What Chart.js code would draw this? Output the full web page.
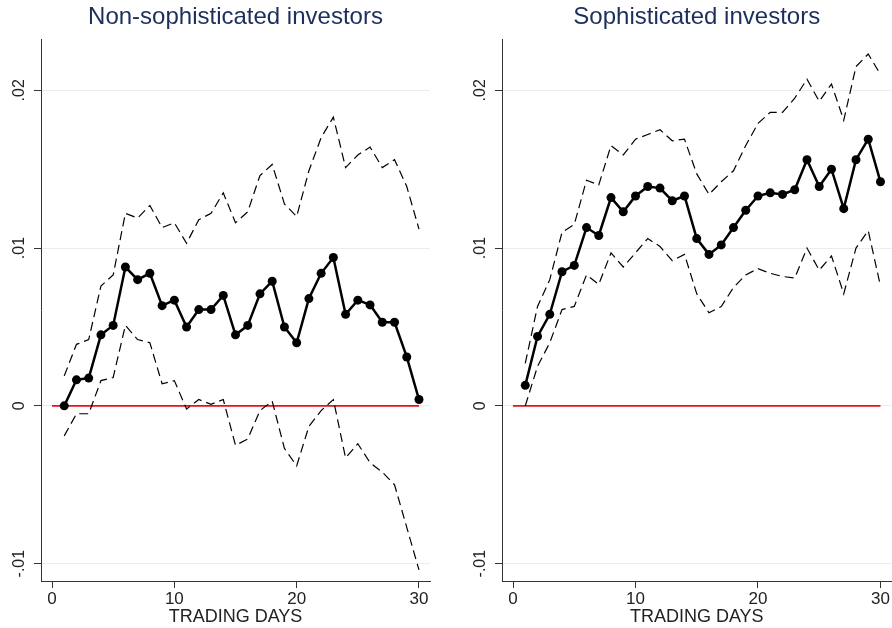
<!DOCTYPE html>
<html>
<head>
<meta charset="utf-8">
<script src="https://cdn.jsdelivr.net/npm/chart.js@4.4.1/dist/chart.umd.min.js"></script>
<style>
  body { margin: 0; background: #fff; overflow: hidden; }
  canvas { position: absolute; top: 0; }
  #left-chart { left: 0; }
  #right-chart { left: 464px; }
</style>
</head>
<body>
<canvas id="left-chart" width="454" height="628"></canvas>
<canvas id="right-chart" width="432" height="628"></canvas>
<script>
// Trading days on the x axis
const days = [1, 2, 3, 4, 5, 6, 7, 8, 9, 10, 11, 12, 13, 14, 15, 16, 17, 18, 19, 20, 21, 22, 23, 24, 25, 26, 27, 28, 29, 30];

// Non-sophisticated investors: mean and confidence band
const nonSophMean = [0.0000, 0.00165, 0.00176, 0.0045, 0.0051, 0.0088, 0.0080, 0.0084, 0.00635, 0.0067, 0.0050, 0.0061, 0.0061, 0.0070, 0.0045, 0.0051, 0.0071, 0.0079, 0.0050, 0.0040, 0.0068, 0.0084, 0.0094, 0.0058, 0.0067, 0.0064, 0.0053, 0.0053, 0.0031, 0.0004];
const nonSophUpper = [0.0019, 0.0039, 0.0042, 0.0076, 0.0083, 0.0122, 0.0119, 0.0127, 0.0113, 0.0116, 0.0103, 0.0118, 0.0122, 0.0135, 0.0116, 0.0123, 0.0146, 0.0153, 0.0128, 0.0120, 0.0149, 0.0170, 0.0183, 0.0151, 0.0159, 0.0164, 0.0151, 0.0156, 0.0139, 0.0112];
const nonSophLower = [-0.0019, -0.0005, -0.0005, 0.0016, 0.0018, 0.0051, 0.0042, 0.0040, 0.0014, 0.0016, -0.0002, 0.0004, 0.0001, 0.0004, -0.0025, -0.0021, -0.0003, 0.0003, -0.0027, -0.0038, -0.0013, -0.0003, 0.0004, -0.0033, -0.0024, -0.0036, -0.0042, -0.0050, -0.0077, -0.0104];

// Sophisticated investors: mean and confidence band
const sophMean = [0.0013, 0.0044, 0.0058, 0.0085, 0.0089, 0.0113, 0.0108, 0.0132, 0.0123, 0.0133, 0.0139, 0.0138, 0.0130, 0.0133, 0.0106, 0.0096, 0.0102, 0.0113, 0.0124, 0.0133, 0.0135, 0.0134, 0.0137, 0.0156, 0.0139, 0.0150, 0.0125, 0.0156, 0.0169, 0.0142];
const sophUpper = [0.0027, 0.0063, 0.0080, 0.0110, 0.0115, 0.0143, 0.0140, 0.0165, 0.0159, 0.0169, 0.0172, 0.0175, 0.0168, 0.0169, 0.0147, 0.0134, 0.0142, 0.0149, 0.0165, 0.0179, 0.0186, 0.0186, 0.0195, 0.0207, 0.0193, 0.0204, 0.0181, 0.0215, 0.0223, 0.0210];
const sophLower = [0.0000, 0.0025, 0.0040, 0.0061, 0.0063, 0.0083, 0.0077, 0.0097, 0.0088, 0.0097, 0.0106, 0.0101, 0.0092, 0.0096, 0.0071, 0.0059, 0.0063, 0.0075, 0.0083, 0.0087, 0.0084, 0.0082, 0.0081, 0.0100, 0.0086, 0.0095, 0.0071, 0.0100, 0.0111, 0.0076];

// Zero reference line and axis ticks
const zeroLineX = [0, 30];
const xTicks = [0, 10, 20, 30];
const yTicks = [-0.01, 0, 0.01, 0.02];
const yTickLabels = ['-.01', '0', '.01', '.02'];

const FONT = 'Liberation Sans, Arial, sans-serif';

function toPoints(xs, ys) {
    return xs.map((x, i) => ({ x: x, y: ys[i] }));
}

// Y tick labels are drawn rotated, reading upward
const rotatedYLabels = {
    id: 'rotatedYLabels',
    afterDraw(chart) {
        const ctx = chart.ctx;
        const scale = chart.scales.y;
        ctx.save();
        ctx.font = '16px ' + FONT;
        ctx.fillStyle = '#222';
        ctx.textAlign = 'center';
        ctx.textBaseline = 'middle';
        yTicks.forEach((v, i) => {
            ctx.save();
            ctx.translate(chart.chartArea.left - 21, scale.getPixelForValue(v));
            ctx.rotate(-Math.PI / 2);
            ctx.fillText(yTickLabels[i], 0, 0);
            ctx.restore();
        });
        ctx.restore();
    }
};

function makeChart(canvasId, title, mean, upper, lower, yAxisWidth, padRight) {
    const ctx = document.getElementById(canvasId).getContext('2d');
    return new Chart(ctx, {
        type: 'line',
        data: {
            datasets: [
                {
                    data: toPoints(days, mean),
                    borderColor: '#000',
                    borderWidth: 2.5,
                    pointRadius: 4.5,
                    pointBackgroundColor: '#000',
                    pointBorderWidth: 0
                },
                {
                    data: toPoints(days, upper),
                    borderColor: '#000',
                    borderWidth: 1.2,
                    borderDash: [9, 5],
                    pointRadius: 0
                },
                {
                    data: toPoints(days, lower),
                    borderColor: '#000',
                    borderWidth: 1.2,
                    borderDash: [9, 5],
                    pointRadius: 0
                },
                {
                    data: toPoints(zeroLineX, [0, 0]),
                    borderColor: '#e8101a',
                    borderWidth: 1.6,
                    pointRadius: 0
                }
            ]
        },
        options: {
            responsive: false,
            animation: false,
            devicePixelRatio: 1,
            layout: { padding: { left: 0, right: padRight, top: 0, bottom: 0 } },
            plugins: {
                legend: { display: false },
                tooltip: { enabled: false },
                title: {
                    display: true,
                    text: title,
                    color: '#1c2e5c',
                    fullSize: false,
                    font: { size: 24, family: FONT, weight: 'normal' },
                    padding: { top: 3, bottom: 8 }
                }
            },
            scales: {
                x: {
                    type: 'linear',
                    min: -0.9,
                    max: 30.9,
                    afterBuildTicks: s => { s.ticks = xTicks.map(v => ({ value: v })); },
                    afterFit: s => {
                        s.height = 47;
                        s.paddingLeft = 0;
                        s.paddingRight = 0;
                    },
                    ticks: { font: { size: 17, family: FONT }, color: '#222', padding: 1, maxRotation: 0 },
                    grid: { drawOnChartArea: false, tickLength: 7, tickColor: '#333' },
                    border: { color: '#333', width: 1 },
                    title: {
                        display: true,
                        text: 'TRADING DAYS',
                        color: '#222',
                        font: { size: 18, family: FONT },
                        padding: { top: 0, bottom: 0 }
                    }
                },
                y: {
                    type: 'linear',
                    min: -0.0111,
                    max: 0.0232,
                    afterBuildTicks: s => { s.ticks = yTicks.map(v => ({ value: v })); },
                    afterFit: s => { s.width = yAxisWidth; },
                    ticks: { display: false },
                    grid: { color: '#e6eef0', lineWidth: 1, tickLength: 7, tickColor: '#333' },
                    border: { color: '#333', width: 1 }
                }
            }
        },
        plugins: [rotatedYLabels]
    });
}

makeChart('left-chart', 'Non-sophisticated investors', nonSophMean, nonSophUpper, nonSophLower, 41, 24);
// right canvas runs a few px past the window so its plot reaches the edge
makeChart('right-chart', 'Sophisticated investors', sophMean, sophUpper, sophLower, 38, 1);
</script>
</body>
</html>
